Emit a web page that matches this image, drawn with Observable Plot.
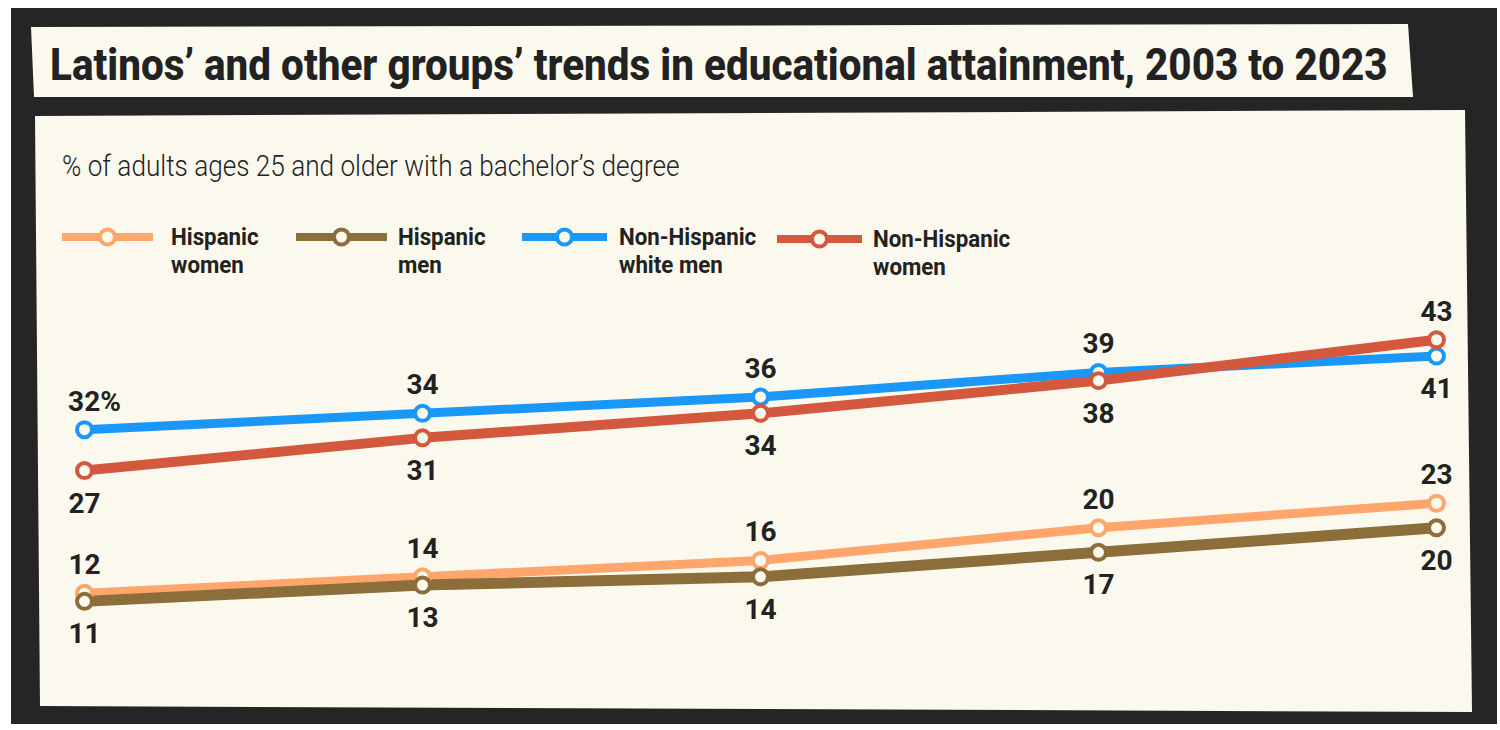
<!DOCTYPE html>
<html>
<head>
<meta charset="utf-8">
<script src="https://cdn.jsdelivr.net/npm/d3@7"></script>
<script src="https://cdn.jsdelivr.net/npm/@observablehq/plot@0.6"></script>
<style>
  html, body { margin:0; padding:0; background:#ffffff; }
  body { width:1500px; height:730px; position:relative; overflow:hidden; font-family: Roboto, "Noto Sans", sans-serif; }
  .abs { position:absolute; }
  #dark { left:11px; top:8px; width:1486px; height:716px; background:#252525; }
  #titlebox { left:31px; top:24px; width:1382px; height:73px; background:#FBF9EE;
    clip-path: polygon(0px 3px, 1377px 0px, 1382px 73px, 3px 73px); }
  #panel { left:35px; top:110px; width:1437px; height:602px; background:#FBF9EE;
    clip-path: polygon(0px 6px, 1430px 0px, 1437px 602px, 5px 596px); }
  #overlay { left:0; top:0; }
  #chart { left:0; top:290px; }
</style>
</head>
<body>
<div id="dark" class="abs"></div>
<div id="titlebox" class="abs"></div>
<div id="panel" class="abs"></div>
<svg id="overlay" class="abs" width="1500" height="730"></svg>
<div id="chart" class="abs"></div>
<script>
// ---- Data ----
const years = [2003, 2008, 2013, 2018, 2023];
const seriesNames = ["Non-Hispanic white men", "Non-Hispanic women", "Hispanic women", "Hispanic men"];
const nonHispanicWhiteMen = [32, 34, 36, 39, 41];
const nonHispanicWomen = [27, 31, 34, 38, 43];
const hispanicWomen = [12, 14, 16, 20, 23];
const hispanicMen = [11, 13, 14, 17, 20];
const seriesColors = ["#1B98F7", "#D4583D", "#FFA66C", "#8B6E3A"];
const legendOrder = ["Hispanic women", "Hispanic men", "Non-Hispanic white men", "Non-Hispanic women"];
const legendLabels = [["Hispanic", "women"], ["Hispanic", "men"], ["Non-Hispanic", "white men"], ["Non-Hispanic", "women"]];
const titleText = "Latinos’ and other groups’ trends in educational attainment, 2003 to 2023";
const subtitleText = "% of adults ages 25 and older with a bachelor’s degree";

const valuesBySeries = [nonHispanicWhiteMen, nonHispanicWomen, hispanicWomen, hispanicMen];
const rows = [];
seriesNames.forEach((s, i) => years.forEach((yr, j) => rows.push({series: s, year: yr, value: valuesBySeries[i][j], idx: j})));

// label placement: within each pair, the higher value gets the label above
const pairs = [["Non-Hispanic white men", "Non-Hispanic women"], ["Hispanic women", "Hispanic men"]];
rows.forEach(r => {
  const pair = pairs.find(p => p.includes(r.series));
  const other = pair.find(s => s !== r.series);
  const o = rows.find(q => q.series === other && q.year === r.year);
  r.above = r.value > o.value;
  r.first = r.idx === 0 && r.series === seriesNames[0];
});

const cream = "#FBF9EE";
const ink = "#222222";

// ---- Overlay: title, subtitle, legend ----
const ns = "http://www.w3.org/2000/svg";
const ov = document.getElementById("overlay");
function el(tag, attrs, parent) {
  const e = document.createElementNS(ns, tag);
  for (const k in attrs) e.setAttribute(k, attrs[k]);
  (parent || ov).appendChild(e);
  return e;
}
function fittedText(str, x, y, width, attrs) {
  const g = el("g", {transform: `translate(${x},${y})`});
  const tx = el("text", Object.assign({x: 0, y: 0}, attrs), g);
  tx.textContent = str;
  const w = tx.getComputedTextLength();
  g.setAttribute("transform", `translate(${x},${y}) scale(${width / w},1)`);
  return tx;
}
fittedText(titleText, 50, 80, 1338, {"font-family": "Roboto", "font-weight": 800, "font-size": 45, fill: ink});
fittedText(subtitleText, 62, 176, 618, {"font-family": "Roboto", "font-weight": 300, "font-size": 30, fill: ink});

// legend layout (line start, line end, label x)
const legendLayout = [[62, 153, 171], [296, 387, 398], [522, 607, 619], [777, 862, 873]];
legendOrder.forEach((name, i) => {
  const c = seriesColors[seriesNames.indexOf(name)];
  const [x0, x1, lx] = legendLayout[i];
  const y0 = 237 + (i === 3 ? 2 : 0);
  el("line", {x1: x0, x2: x1, y1: y0, y2: y0, stroke: c, "stroke-width": 8});
  el("circle", {cx: (x0 + x1) / 2, cy: y0, r: 7.5, fill: cream, stroke: c, "stroke-width": 4});
  const g = el("g", {transform: `translate(${lx},0) scale(0.93,1)`});
  legendLabels[i].forEach((line, k) => {
    const tx = el("text", {x: 0, y: 245 + k * 28 + (i === 3 ? 2 : 0), "font-family": "Roboto", "font-weight": 700, "font-size": 24, fill: ink}, g);
    tx.textContent = line;
  });
});

// ---- Chart ----
const lineWidths = {"Non-Hispanic white men": 9, "Non-Hispanic women": 10, "Hispanic women": 9, "Hispanic men": 11};
const labelFont = {fontFamily: "Roboto", fontWeight: 700, fontSize: 28, fill: ink};

const chart = Plot.plot({
  width: 1500,
  height: 420,
  margin: 0,
  x: {domain: [2003, 2023], range: [84, 1436], axis: null},
  y: {domain: [0, 45], range: [400.8, 32.9], axis: null},
  color: {domain: seriesNames, range: seriesColors},
  style: {background: "transparent", overflow: "visible"},
  marks: [
    ...seriesNames.map(s => Plot.line(rows.filter(r => r.series === s), {
      x: "year", y: "value", stroke: "series", strokeWidth: lineWidths[s], strokeLinecap: "butt", strokeLinejoin: "round"
    })),
    Plot.dot(rows, {x: "year", y: "value", stroke: "series", fill: cream, r: 7.5, strokeWidth: 4}),
    Plot.text(rows.filter(r => r.above && !r.first), {x: "year", y: "value", text: d => String(d.value), lineAnchor: "bottom", dy: -19, ...labelFont}),
    Plot.text(rows.filter(r => r.first), {x: "year", y: "value", text: d => d.value + "%", lineAnchor: "bottom", dy: -19, dx: 10, ...labelFont}),
    Plot.text(rows.filter(r => !r.above), {x: "year", y: "value", text: d => String(d.value), lineAnchor: "bottom", dy: 42, ...labelFont})
  ]
});
document.getElementById("chart").appendChild(chart);
</script>
</body>
</html>
